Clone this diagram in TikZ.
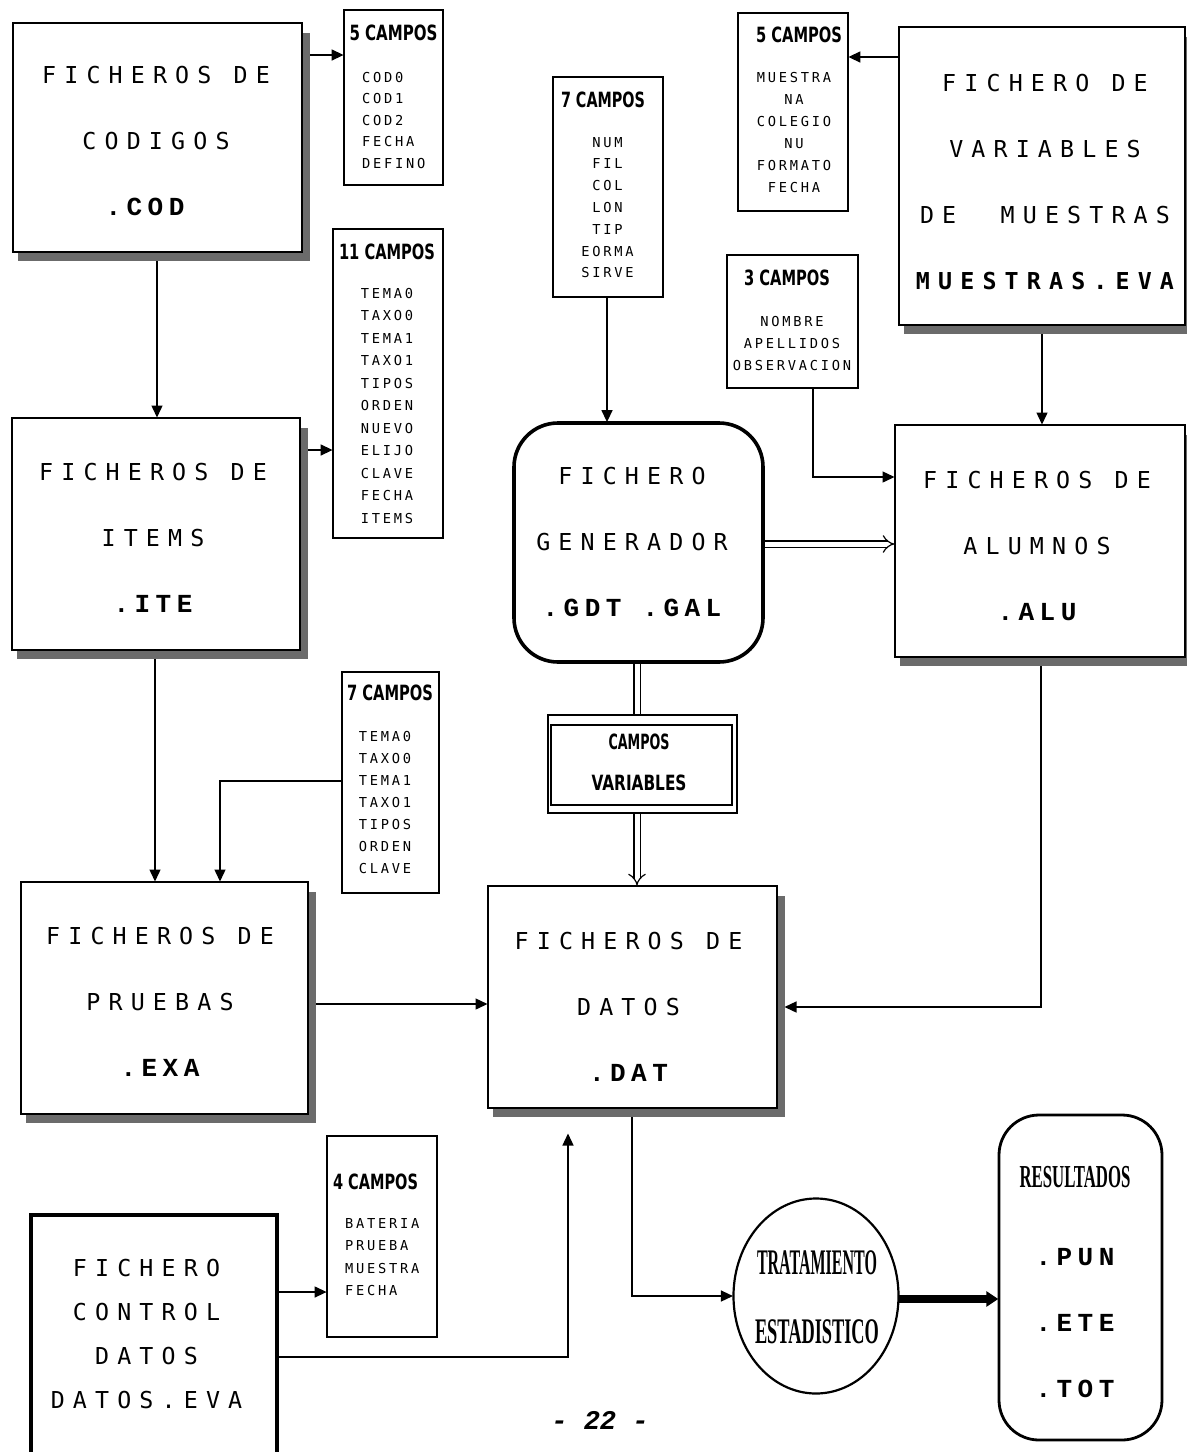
\documentclass[tikz,border=0pt]{standalone}
\usepackage{fontspec}
\usepackage{graphicx}
\usetikzlibrary{arrows.meta,calc,shapes.geometric,backgrounds}

% Typewriter-like faces of the flow chart
\newfontfamily\dotfont[LetterSpace=35]{DejaVu Sans Mono}
\newfontfamily\extfont[LetterSpace=21]{Liberation Mono}
\newfontfamily\itemfont[LetterSpace=20]{DejaVu Sans Mono}
\newfontfamily\headfont{DejaVu Sans}
\newfontfamily\slabfont{Liberation Serif}
\newfontfamily\pagefont{Liberation Mono}

\newcommand\bigtxt{\dotfont\fontsize{23.3}{66}\selectfont}
\newcommand\exttxt{\extfont\bfseries\fontsize{26}{66}\selectfont}
\newcommand\itemtxt[1]{\itemfont\fontsize{13.7}{#1}\selectfont}
\newcommand\headtxt[2]{\resizebox{#1pt}{\height}{\headfont\bfseries\fontsize{21}{21}\selectfont #2}}
\newcommand\slabtxt[3]{\resizebox{#1pt}{\height}{\slabfont\bfseries\fontsize{#2}{#2}\selectfont #3}}

\definecolor{shadecol}{gray}{0.42}

% hatched shadow on the right and lower side of a file box
\newcommand\castshade[1]{%
  \fill[shadecol] ($(#1.north east)+(0,10)$) rectangle ($(#1.south east)+(7,8)$);
  \fill[shadecol] ($(#1.south west)+(5,0)$) rectangle ($(#1.south east)+(7,8)$);}

\begin{document}
\begin{tikzpicture}[x=1pt,y=-1pt,scale=0.5,transform shape,
  filebox/.style={draw,line width=1pt,fill=white,inner sep=0pt},
  fieldbox/.style={draw,line width=0.8pt,fill=white,inner sep=0pt},
  boxtext/.style={inner sep=0pt,align=center,font=\bigtxt},
  listtext/.style={inner sep=0pt,anchor=north,align=center,font={\itemtxt{#1}}},
  listleft/.style={inner sep=0pt,anchor=north west,align=left,font={\itemtxt{#1}}},
  link/.style={line width=0.7pt,-{Triangle[length=6pt,width=5.5pt]}},
  twin/.style={double,double distance=2.5pt,line width=0.6pt},
]
\useasboundingbox (0,0) rectangle (1187,1452);

% ---------- file boxes ----------
\node[filebox,minimum width=289,minimum height=229] (cod) at (157.5,137.5) {};
\node[boxtext] (codtext) at (156,141) {FICHEROS DE\\CODIGOS\\\hspace*{-22pt}{\exttxt .COD}};

\node[filebox,minimum width=288,minimum height=232] (ite) at (156,534) {};
\node[boxtext] (itetext) at (153,537.5) {FICHEROS DE\\ITEMS\\{\exttxt .ITE}};

\node[filebox,minimum width=287,minimum height=232] (exa) at (164.5,998) {};
\node[boxtext] (exatext) at (160,1002) {FICHEROS DE\\PRUEBAS\\{\exttxt .EXA}};

\node[filebox,minimum width=289,minimum height=222] (dat) at (632.5,997) {};
\node[boxtext] (dattext) at (628.5,1006.5) {FICHEROS DE\\DATOS\\{\exttxt .DAT}};

\node[filebox,minimum width=290,minimum height=232] (alu) at (1040,541) {};
\node[boxtext] (alutext) at (1037,545.5) {FICHEROS DE\\ALUMNOS\\{\exttxt .ALU}};

\node[filebox,minimum width=286,minimum height=298] (mue) at (1042,176) {};
\node[boxtext] (muetext) at (1045,182) {FICHERO DE\\VARIABLES\\DE\ \ MUESTRAS\\{\bfseries MUESTRAS.EVA}};

\node[filebox,line width=1.8pt,rounded corners=22,minimum width=249,minimum height=239] (gen) at (638.5,542.5) {};
\node[boxtext] (gentext) at (632,542) {FICHERO\\GENERADOR\\{\exttxt .GDT .GAL}};

\node[draw,line width=1.8pt,fill=white,inner sep=0pt,minimum width=246,minimum height=260] (ctl) at (154,1345) {};
\node[boxtext,font={\dotfont\fontsize{23.3}{44}\selectfont}] (ctltext) at (146.5,1334) {FICHERO\\CONTROL\\DATOS\\DATOS.EVA};

\node[draw,line width=1.4pt,fill=white,rounded corners=20,inner sep=0pt,minimum width=163,minimum height=325] (res) at (1080.5,1277.5) {};
\node[boxtext,font=\exttxt] (restext) at (1075,1282) {\slabtxt{111}{32}{RESULTADOS}\\[12pt].PUN\\.ETE\\.TOT};

\node[draw,ellipse,line width=1.1pt,fill=white,inner sep=0pt,minimum width=165,minimum height=195] (trat) at (816,1296) {};
\node[inner sep=0pt,align=center,font={\fontsize{36}{68.5}\selectfont}] (trattext) at (817,1297) {\slabtxt{120}{36}{TRATAMIENTO}\\\slabtxt{124}{36}{ESTADISTICO}};

\node[draw,line width=0.8pt,fill=white,inner sep=0pt,minimum width=189,minimum height=98] (cv) at (642.5,764) {};
\node[draw,line width=0.8pt,inner sep=0pt,minimum width=181,minimum height=80] (cvin) at (641.5,765) {};
\node[inner sep=0pt,align=center,font={\fontsize{21}{41}\selectfont}] (cvtext) at (639,762.5) {\headtxt{61}{CAMPOS}\\\headtxt{95}{VARIABLES}};

% ---------- field lists ----------
\node[fieldbox,minimum width=99,minimum height=175] (fa) at (393.5,97.5) {};
\node[inner sep=0pt] (fahead) at (393.5,33) {\headtxt{88}{5 CAMPOS}};
\node[listleft=21.5] (falist) at (362,72) {COD0\\COD1\\COD2\\FECHA\\DEFINO};

\node[fieldbox,minimum width=110,minimum height=309] (fb) at (388,383.5) {};
\node[inner sep=0pt] (fbhead) at (387,252) {\headtxt{96}{11 CAMPOS}};
\node[listtext=22.5] (fblist) at (387,288) {TEMA0\\TAXO0\\TEMA1\\TAXO1\\TIPOS\\ORDEN\\NUEVO\\ELIJO\\CLAVE\\FECHA\\ITEMS};

\node[fieldbox,minimum width=110,minimum height=220] (fd) at (608,187) {};
\node[inner sep=0pt] (fdhead) at (603,100) {\headtxt{84}{7 CAMPOS}};
\node[listtext=21.8] (fdlist) at (607.5,137) {NUM\\FIL\\COL\\LON\\TIP\\EORMA\\SIRVE};

\node[fieldbox,minimum width=110,minimum height=198] (fe) at (793,112) {};
\node[inner sep=0pt] (fehead) at (799,35) {\headtxt{86}{5 CAMPOS}};
\node[listtext=22] (felist) at (794,72) {MUESTRA\\NA\\COLEGIO\\NU\\FORMATO\\FECHA};

\node[fieldbox,minimum width=131,minimum height=133] (ff) at (792.5,321.5) {};
\node[inner sep=0pt] (ffhead) at (787,278) {\headtxt{86}{3 CAMPOS}};
\node[listtext=22] (fflist) at (792,316) {NOMBRE\\APELLIDOS\\OBSERVACION};

\node[fieldbox,minimum width=97,minimum height=221] (fc) at (390.5,782.5) {};
\node[inner sep=0pt] (fchead) at (390,693) {\headtxt{86}{7 CAMPOS}};
\node[listtext=22] (fclist) at (385,731) {TEMA0\\TAXO0\\TEMA1\\TAXO1\\TIPOS\\ORDEN\\CLAVE};

\node[fieldbox,minimum width=110,minimum height=201] (fg) at (382,1236.5) {};
\node[inner sep=0pt] (fghead) at (375.5,1182) {\headtxt{85}{4 CAMPOS}};
\node[listleft=22.5] (fglist) at (345,1218) {BATERIA\\PRUEBA\\MUESTRA\\FECHA};

\node[inner sep=0pt,font={\pagefont\bfseries\itshape\fontsize{27}{27}\selectfont}] (pageno) at (600,1420) {- 22 -};

% ---------- connectors and shadows ----------
\begin{pgfonlayer}{background}
  \fill[white] (0,0) rectangle (1187,1452);

  \coordinate (ya) at (0,55);
  \coordinate (yb) at (0,57);
  \coordinate (xc) at (157,0);
  \coordinate (yd) at (0,450);
  \coordinate (xe) at (155,0);
  \coordinate (kf) at (220,781);
  \coordinate (yg) at (0,1004);
  \coordinate (xh) at (607,0);
  \coordinate (xi) at (1042,0);
  \coordinate (kj) at (813,477);
  \coordinate (yk) at (0,544);
  \coordinate (xl) at (637,0);
  \coordinate (km) at (1041,1007);
  \coordinate (kn) at (632,1296);
  \coordinate (yo) at (0,1299);
  \coordinate (yp) at (0,1292);
  \coordinate (kq) at (568,1357);

  \draw[link] (cod.east |- ya) -- (fa.west |- ya);
  \draw[link] (mue.west |- yb) -- (fe.east |- yb);
  \draw[link] (cod.south -| xc) -- (ite.north -| xc);
  \draw[link] (ite.east |- yd) -- (fb.west |- yd);
  \draw[link] (ite.south -| xe) -- (exa.north -| xe);
  \draw[link] (fc.west |- kf) -| (exa.north -| kf);
  \draw[link] (exa.east |- yg) -- (dat.west |- yg);
  \draw[link] (fd.south -| xh) -- (gen.north -| xh);
  \draw[link] (mue.south -| xi) -- (alu.north -| xi);
  \draw[link] (ff.south -| kj) |- (alu.west |- kj);
  \draw[twin,-{Implies}] (gen.east |- yk) -- (alu.west |- yk);
  \draw[twin] (gen.south -| xl) -- (cv.north -| xl);
  \draw[twin,-{Implies}] (cv.south -| xl) -- (dat.north -| xl);
  \draw[link] (alu.south -| km) |- ($(dat.east |- km)+(7,0)$);
  \draw[link] (dat.south -| kn) |- (trat.west);
  \draw[line width=4pt,-{Triangle[length=6pt,width=7.5pt]}] (trat.east |- yo) -- (res.west |- yo);
  \draw[link] (ctl.east |- yp) -- (fg.west |- yp);
  \draw[link] (ctl.east |- kq) -| ($(kq |- dat.south)+(0,25)$);

  \castshade{cod}
  \castshade{ite}
  \castshade{exa}
  \castshade{dat}
  \castshade{alu}
  \castshade{mue}
\end{pgfonlayer}
\end{tikzpicture}
\end{document}
